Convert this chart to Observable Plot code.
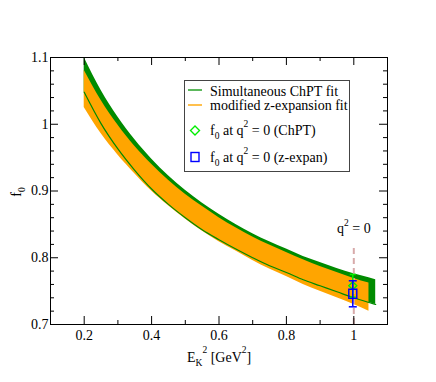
<!DOCTYPE html>
<html><head><meta charset="utf-8">
<script src="https://cdn.jsdelivr.net/npm/d3@7"></script>
<script src="https://cdn.jsdelivr.net/npm/@observablehq/plot@0.6"></script>
<style>
body{margin:0;background:#fff;}
#chart{position:relative;width:436px;height:382px;}
</style></head><body><div id="chart"></div>
<script>
// ---- data ----
const greenX     = [0.2,0.25,0.3,0.35,0.4,0.45,0.5,0.55,0.6,0.65,0.7,0.75,0.8,0.85,0.9,0.95,1.0,1.045,1.065];
const greenUpper = [1.100,1.051,1.011,0.977,0.948,0.923,0.901,0.882,0.865,0.850,0.836,0.824,0.813,0.802,0.793,0.784,0.776,0.770,0.767];
const greenLower = [1.048,1.001,0.963,0.931,0.903,0.880,0.860,0.842,0.827,0.813,0.800,0.788,0.778,0.767,0.758,0.749,0.740,0.733,0.730];
const orangeX     = [0.2,0.25,0.3,0.35,0.4,0.45,0.5,0.55,0.6,0.65,0.7,0.75,0.8,0.85,0.9,0.95,1.0,1.045];
const orangeUpper = [1.081,1.036,0.999,0.967,0.940,0.916,0.895,0.877,0.860,0.845,0.831,0.819,0.808,0.797,0.787,0.778,0.769,0.762];
const orangeLower = [1.025,0.986,0.954,0.926,0.900,0.878,0.858,0.840,0.824,0.810,0.796,0.783,0.772,0.760,0.750,0.740,0.730,0.720];
const chptPoint = [{x:0.997, f:0.758, err:0.017}];
const zexpPoint = [{x:0.997, f:0.746, err:0.0195}];
const qLine = [{x:1.0, y1:0.700, y2:0.815}];
const xMajor = [0.2,0.4,0.6,0.8,1.0];
const xTickLabels = ["0.2","0.4","0.6","0.8","1"];
const xMinor = [0.1,0.3,0.5,0.7,0.9,1.1];
const yMajor = [0.7,0.8,0.9,1.0,1.1];
const yTickLabels = ["0.7","0.8","0.9","1","1.1"];
const yMinor = [0.72,0.74,0.76,0.78,0.82,0.84,0.86,0.88,0.92,0.94,0.96,0.98,1.02,1.04,1.06,1.08];
const legendLabels = ["Simultaneous ChPT fit","modified z-expansion fit"];

// ---- layout / style ----
const W=436,H=382,ML=50,MR=49,MT=57,MB=58;
const FW=W-ML-MR, FH=H-MT-MB, MAJ=8, MIN=4;
const GREEN="#008b00", ORANGE="#ffa500", LIME="#00ee00", BLUE="#0000ff", PINK="#d8aaaa";
const FONT="'Liberation Serif', 'Times New Roman', serif";

const greenData = greenX.map((x,i)=>({x, hi:greenUpper[i], lo:greenLower[i]}));
const orangeData = orangeX.map((x,i)=>({x, hi:orangeUpper[i], lo:orangeLower[i]}));

const hbar = {draw(ctx,size){const r=Math.sqrt(size/Math.PI); ctx.moveTo(-r,0); ctx.lineTo(r,0);}};
const diamond = {draw(ctx,size){const r=Math.sqrt(size/Math.PI); ctx.moveTo(0,-r); ctx.lineTo(r,0); ctx.lineTo(0,r); ctx.lineTo(-r,0); ctx.closePath();}};
const rectSym = {draw(ctx,size){const r=Math.sqrt(size/Math.PI); ctx.rect(-r,-r*1.15,2*r,2.3*r);}};

const chart = Plot.plot({
  width:W, height:H, marginLeft:ML, marginRight:MR, marginTop:MT, marginBottom:MB,
  style:{fontFamily:FONT, fontSize:"14px", background:"#fff", color:"#000"},
  x:{domain:[0.1,1.1], label:null},
  y:{domain:[0.7,1.1], label:null},
  marks:[
    Plot.areaY(greenData,{x:"x", y1:"lo", y2:"hi", fill:GREEN, curve:"monotone-x"}),
    Plot.areaY(orangeData,{x:"x", y1:"lo", y2:"hi", fill:ORANGE, curve:"monotone-x"}),
    Plot.line(greenData,{x:"x", y:"lo", stroke:GREEN, strokeWidth:1.2, curve:"monotone-x"}),
    Plot.ruleX(qLine,{x:"x", y1:"y1", y2:"y2", stroke:PINK, strokeWidth:2, strokeDasharray:"6,4"}),
    // ChPT point
    Plot.ruleX(chptPoint,{x:"x", y1:d=>d.f-d.err, y2:d=>d.f+d.err, stroke:LIME, strokeWidth:1.5}),
    Plot.dot(chptPoint,{x:"x", y:d=>d.f+d.err, symbol:hbar, r:3, stroke:LIME, strokeWidth:1.5}),
    Plot.dot(chptPoint,{x:"x", y:d=>d.f-d.err, symbol:hbar, r:3, stroke:LIME, strokeWidth:1.5}),
    Plot.dot(chptPoint,{x:"x", y:"f", symbol:diamond, r:4, stroke:LIME, strokeWidth:1.4, fill:"none"}),
    // z-expansion point
    Plot.ruleX(zexpPoint,{x:"x", y1:d=>d.f-d.err, y2:d=>d.f+d.err, stroke:BLUE, strokeWidth:1.5}),
    Plot.dot(zexpPoint,{x:"x", y:d=>d.f+d.err, symbol:hbar, r:4, stroke:BLUE, strokeWidth:1.5}),
    Plot.dot(zexpPoint,{x:"x", y:d=>d.f-d.err, symbol:hbar, r:4, stroke:BLUE, strokeWidth:1.5}),
    Plot.dot(zexpPoint,{x:"x", y:"f", symbol:rectSym, r:4, stroke:BLUE, strokeWidth:1.4, fill:"none"}),
    // inward ticks on all four sides
    Plot.tickX(xMajor,{x:d=>d, insetTop:FH-MAJ, stroke:"#000"}),
    Plot.tickX(xMajor,{x:d=>d, insetBottom:FH-MAJ, stroke:"#000"}),
    Plot.tickX(xMinor,{x:d=>d, insetTop:FH-MIN, stroke:"#000"}),
    Plot.tickX(xMinor,{x:d=>d, insetBottom:FH-MIN, stroke:"#000"}),
    Plot.tickY(yMajor,{y:d=>d, insetRight:FW-MAJ, stroke:"#000"}),
    Plot.tickY(yMajor,{y:d=>d, insetLeft:FW-MAJ, stroke:"#000"}),
    Plot.tickY(yMinor,{y:d=>d, insetRight:FW-MIN, stroke:"#000"}),
    Plot.tickY(yMinor,{y:d=>d, insetLeft:FW-MIN, stroke:"#000"}),
    Plot.axisX(xMajor,{tickSize:0, tickPadding:6, label:null, tickFormat:d=>xTickLabels[xMajor.indexOf(d)], fontSize:14}),
    Plot.axisY(yMajor,{tickSize:0, tickPadding:2, label:null, tickFormat:d=>yTickLabels[yMajor.indexOf(d)], fontSize:14}),
    Plot.frame({stroke:"#000", strokeWidth:1})
  ]
});
document.getElementById("chart").appendChild(chart);

// ---- rich text: legend, axis titles, annotation ----
const svg = d3.select(chart);
const g = svg.append("g").attr("font-family",FONT).attr("font-size",14).attr("fill","#000");
function rich(parent, x, y, parts, anchor){
  const t = parent.append("text").attr("x",x).attr("y",y).attr("text-anchor",anchor||"start");
  let cur = 0;
  parts.forEach(p=>{
    const s = t.append("tspan").text(p.t);
    const target = p.sub ? 4 : p.sup ? (p.supShift||-8) : 0;
    if (target!==cur) s.attr("dy", target-cur);
    cur = target;
    if (p.sub||p.sup) s.attr("font-size",9.5);
  });
  return t;
}
// legend box
g.append("rect").attr("x",184.5).attr("y",80.5).attr("width",165).attr("height",91)
  .attr("fill","#fff").attr("stroke","#444").attr("stroke-width",1);
g.append("line").attr("x1",188).attr("x2",202).attr("y1",90).attr("y2",90).attr("stroke","#5cb85c").attr("stroke-width",2);
g.append("line").attr("x1",188).attr("x2",202).attr("y1",105).attr("y2",105).attr("stroke","#ffc04d").attr("stroke-width",2);
g.append("path").attr("d","M195,126 L199.5,130.5 L195,135 L190.5,130.5 Z").attr("fill","none").attr("stroke",LIME).attr("stroke-width",1.4);
g.append("rect").attr("x",191).attr("y",152.5).attr("width",8).attr("height",9).attr("fill","none").attr("stroke",BLUE).attr("stroke-width",1.4);
rich(g,210,96,[{t:legendLabels[0]}]);
rich(g,210,110,[{t:legendLabels[1]}]);
rich(g,210,135,[{t:"f"},{t:"0",sub:true},{t:" at q"},{t:"2",sup:true},{t:" = 0 (ChPT)"}]);
rich(g,210,162,[{t:"f"},{t:"0",sub:true},{t:" at q"},{t:"2",sup:true},{t:" = 0 (z-expan)"}]);
// x axis title
rich(g,187,362,[{t:"E"},{t:"K",sub:true},{t:"2",sup:true,supShift:-9},{t:" [GeV"},{t:"2",sup:true,supShift:-9},{t:"]"}]);
// y axis title
const gy = g.append("g").attr("transform","translate(21,192) rotate(-90)");
rich(gy,0,0,[{t:"f"},{t:"0",sub:true}],"middle");
// q^2 = 0 annotation
rich(g,337,233,[{t:"q"},{t:"2",sup:true,supShift:-7},{t:" = 0"}]);
</script></body></html>
